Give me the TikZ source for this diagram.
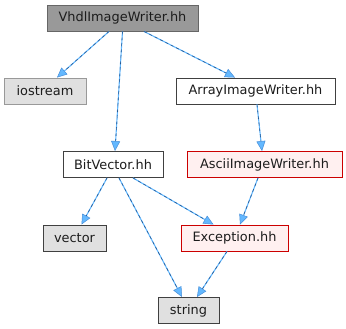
\documentclass[tikz,border=0pt]{standalone}
\usepackage{fontspec}
\setmainfont{DejaVu Sans}
\usetikzlibrary{arrows.meta}
\definecolor{edgeblue}{HTML}{63B8FF}
\definecolor{edgedark}{HTML}{27578F}
\definecolor{edgetipline}{HTML}{4A90D9}
\definecolor{hdrfill}{HTML}{999999}
\definecolor{hdrline}{HTML}{666666}
\definecolor{sysfill}{HTML}{E0E0E0}
\definecolor{sysline}{HTML}{999999}
\definecolor{darkline}{HTML}{404040}
\definecolor{errfill}{HTML}{FFF0F0}
\definecolor{errline}{HTML}{CC0000}
\definecolor{txt}{HTML}{1C1C1C}
\begin{document}
\begin{tikzpicture}[x=1pt,y=-1pt,
  filebox/.style={draw, line width=0.9pt, minimum height=26pt, inner sep=0pt,
    font=\fontsize{12.9}{14}\selectfont, text=txt},
  mainfile/.style={filebox, fill=hdrfill, draw=hdrline},
  sysfile/.style={filebox, fill=sysfill, draw=darkline},
  sysfilelight/.style={filebox, fill=sysfill, draw=sysline},
  plainfile/.style={filebox, fill=white, draw=darkline},
  redfile/.style={filebox, fill=errfill, draw=errline},
  dep/.style={draw=edgeblue, line width=1.1pt,
    -{Triangle[length=10pt,width=9pt,fill=edgeblue,color=edgetipline,line width=0.5pt]},
    postaction={draw=edgedark, line width=0.6pt, dash pattern=on 3pt off 3pt, shorten >=10pt, -}},
]
\useasboundingbox (0,0) rectangle (346,329);

\node[mainfile, minimum width=151pt] (vhdl) at (122.5,18) {VhdlImageWriter.hh};
\node[sysfilelight, minimum width=82pt] (iostream) at (45,91) {iostream};
\node[plainfile, minimum width=159pt] (array) at (255.5,91) {ArrayImageWriter.hh};
\node[plainfile, minimum width=100pt] (bitvec) at (113,164.5) {BitVector.hh};
\node[redfile, minimum width=155pt] (ascii) at (264.5,164.5) {AsciiImageWriter.hh};
\node[sysfile, minimum width=63pt] (vector) at (74.5,238) {vector};
\node[redfile, minimum width=107pt] (except) at (234.5,238) {Exception.hh};
\node[sysfile, minimum width=61pt] (string) at (188.5,310.5) {string};

\draw[dep] ([xshift=-13.5pt]vhdl.south) -- ([xshift=12pt]iostream.north);
\draw[dep] ([xshift=0pt]vhdl.south) -- ([xshift=2pt]bitvec.north);
\draw[dep] ([xshift=21.5pt]vhdl.south) -- ([xshift=-20.5pt]array.north);
\draw[dep] ([xshift=1.5pt]array.south) -- ([xshift=-2.5pt]ascii.north);
\draw[dep] ([xshift=-6pt]bitvec.south) -- ([xshift=7pt]vector.north);
\draw[dep] ([xshift=6pt]bitvec.south) -- ([xshift=-6.5pt]string.north);
\draw[dep] ([xshift=20pt]bitvec.south) -- ([xshift=-21pt]except.north);
\draw[dep] ([xshift=-6.5pt]ascii.south) -- ([xshift=5.5pt]except.north);
\draw[dep] ([xshift=-7.5pt]except.south) -- ([xshift=8.5pt]string.north);
\end{tikzpicture}
\end{document}
